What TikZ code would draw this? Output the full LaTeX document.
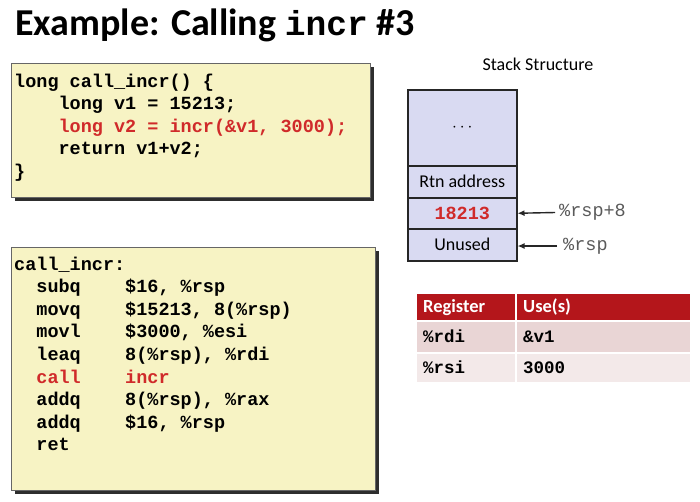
\documentclass[tikz,border=0pt]{standalone}
\usepackage{fontspec}
\setmainfont{Carlito}
\newfontfamily\mono{Liberation Mono}
\usetikzlibrary{arrows.meta,shadows}
\definecolor{codebg}{HTML}{F7F3C4}
\definecolor{shadowc}{HTML}{2E2E2E}
\definecolor{codered}{HTML}{D02A2A}
\definecolor{stackbg}{HTML}{D9DAF2}
\definecolor{hdrred}{HTML}{B4161B}
\definecolor{rowa}{HTML}{E9D5D5}
\definecolor{rowb}{HTML}{F3E9E9}
\definecolor{lblgray}{HTML}{5A5A5A}
\begin{document}
\begin{tikzpicture}[x=1pt,y=-1pt,
  code/.style={anchor=base west,inner sep=0pt,font=\mono\bfseries\fontsize{18.5}{22}\selectfont},
  codebox/.style={anchor=north west,draw=gray!80!black,line width=0.8pt,fill=codebg,inner sep=0pt,
    drop shadow={shadow xshift=4pt,shadow yshift=-4pt,fill=shadowc,opacity=1}},
  cell/.style={anchor=north west,draw=black!85,line width=1.5pt,fill=stackbg,inner sep=0pt,minimum width=109pt,
    font=\fontsize{18}{20}\selectfont},
  lbl/.style={anchor=west,inner sep=0pt,text=lblgray,font=\mono\fontsize{18.5}{20}\selectfont},
  ptr/.style={-{Latex[length=7pt,width=6pt]},line width=1.4pt,black!85},
  tcell/.style={anchor=north west,draw=white,line width=1.5pt,inner sep=0pt,text depth=0pt},
  hdr/.style={tcell,fill=hdrred},
  trow/.style={tcell},
  hdrtext/.style={anchor=base west,inner sep=0pt,text=white,font=\bfseries\fontsize{18.5}{20}\selectfont},
  rowtext/.style={anchor=base west,inner sep=0pt,font=\mono\bfseries\fontsize{17.5}{20}\selectfont}
]
\useasboundingbox (0,0) rectangle (700,501);
\fill[white] (0,0) rectangle (700,501);

% title
\node[anchor=base west,inner sep=0pt,font=\bfseries\fontsize{38}{40}\selectfont] (title) at (15,35)
  {Example: Calling {\mono\fontsize{34.6}{40}\selectfont incr} \#3};

% C code box
\node[codebox,minimum width=359pt,minimum height=134pt] (box1) at (11,63) {};
\node[code] (c1) at (14,87) {long call\_incr() \{};
\node[code] (c2) at (58.4,109.5) {long v1 = 15213;};
\node[code,text=codered] (c3) at (58.4,132) {long v2 = incr(\&v1, 3000);};
\node[code] (c4) at (58.4,154.5) {return v1+v2;};
\node[code] (c5) at (14,177) {\}};

% assembly box
\node[codebox,minimum width=364pt,minimum height=243pt] (box2) at (11,247) {};
\node[code] (a0) at (14,270) {call\_incr:};
\node[code] (m1) at (36.2,292.6) {subq};   \node[code] (o1) at (125,292.6) {\$16, \%rsp};
\node[code] (m2) at (36.2,315.2) {movq};   \node[code] (o2) at (125,315.2) {\$15213, 8(\%rsp)};
\node[code] (m3) at (36.2,337.8) {movl};   \node[code] (o3) at (125,337.8) {\$3000, \%esi};
\node[code] (m4) at (36.2,360.4) {leaq};   \node[code] (o4) at (125,360.4) {8(\%rsp), \%rdi};
\node[code,text=codered] (m5) at (36.2,383) {call}; \node[code,text=codered] (o5) at (125,383) {incr};
\node[code] (m6) at (36.2,405.6) {addq};   \node[code] (o6) at (125,405.6) {8(\%rsp), \%rax};
\node[code] (m7) at (36.2,428.2) {addq};   \node[code] (o7) at (125,428.2) {\$16, \%rsp};
\node[code] (m8) at (36.2,450.8) {ret};

% stack
\node[font=\fontsize{18}{20}\selectfont,inner sep=0pt,anchor=base] (sttitle) at (538,70) {Stack Structure};
\node[cell,minimum height=76pt] (s1) at (407,89) {\raisebox{-4pt}[0pt][0pt]{$\cdots$}};
\node[cell,minimum height=32pt] (s2) at (407,165) {Rtn address};
\node[cell,minimum height=31pt,text=codered,font=\mono\bfseries\fontsize{18.5}{20}\selectfont] (s3) at (407,197) {18213};
\node[cell,minimum height=32pt] (s4) at (407,228) {Unused};
\coordinate (p1) at (555,212.5);
\coordinate (p2) at (557,246);
\draw[ptr] (p1) -- (s3.east);
\draw[ptr] (p2) -- (s4.east |- p2);
\node[lbl] (l1) at (559,212.5) {\%rsp+8};
\node[lbl] (l2) at (563,246) {\%rsp};

% table
\node[hdr,minimum width=100pt,minimum height=28pt] (h1) at (415,292) {};
\node[hdr,minimum width=175pt,minimum height=28pt] (h2) at (515,292) {};
\node[trow,fill=rowa,minimum width=100pt,minimum height=32pt] (r11) at (415,320) {};
\node[trow,fill=rowa,minimum width=175pt,minimum height=32pt] (r12) at (515,320) {};
\node[trow,fill=rowb,minimum width=100pt,minimum height=30pt] (r21) at (415,352) {};
\node[trow,fill=rowb,minimum width=175pt,minimum height=30pt] (r22) at (515,352) {};
\node[hdrtext] (th1) at (423,312) {Register};
\node[hdrtext] (th2) at (523,312) {Use(s)};
\node[rowtext] (t11) at (423,342) {\%rdi};
\node[rowtext] (t12) at (523,342) {\&v1};
\node[rowtext] (t21) at (423,373) {\%rsi};
\node[rowtext] (t22) at (523,373) {3000};
\end{tikzpicture}
\end{document}
